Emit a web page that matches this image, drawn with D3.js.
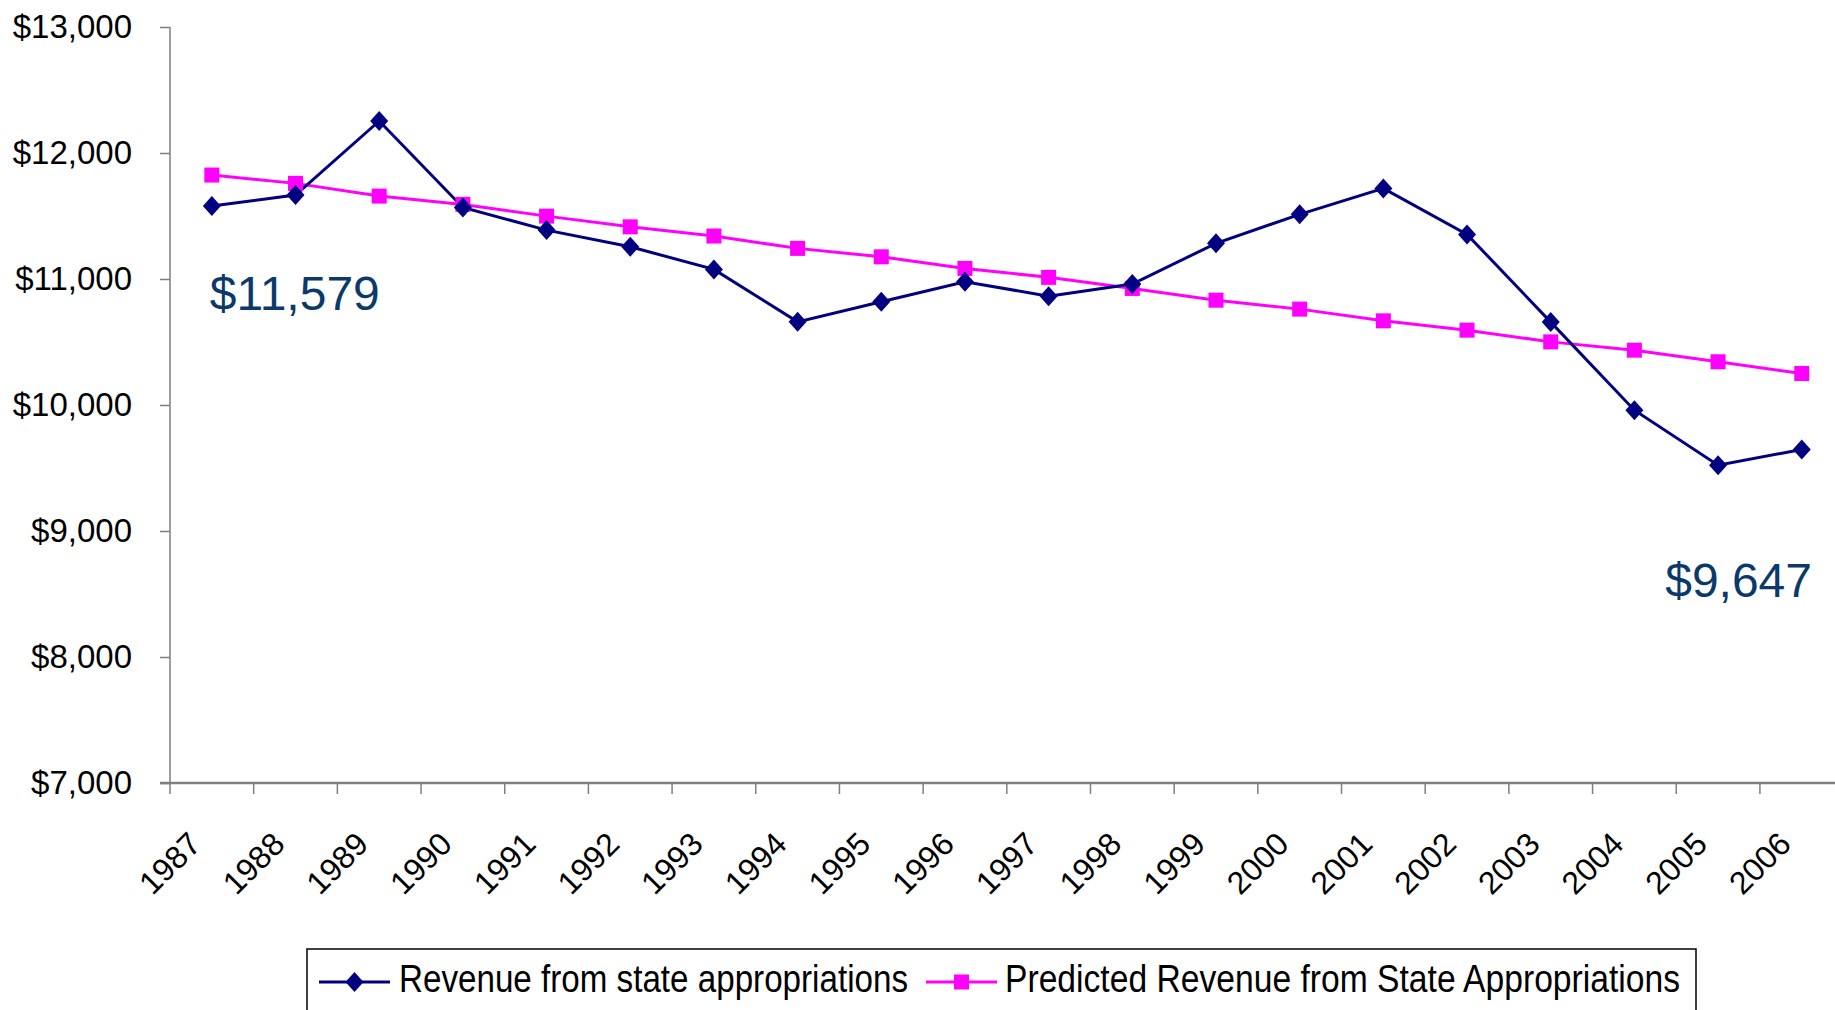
<!DOCTYPE html>
<html>
<head>
<meta charset="utf-8">
<script src="https://cdn.jsdelivr.net/npm/d3@7"></script>
<style>
  html, body { margin: 0; padding: 0; background: #fff; }
  svg { display: block; font-family: "Liberation Sans", Arial, sans-serif; }
</style>
</head>
<body>
<svg id="chart" width="1835" height="1010"></svg>
<script>
"use strict";
// data
var years = ["1987","1988","1989","1990","1991","1992","1993","1994","1995","1996",
             "1997","1998","1999","2000","2001","2002","2003","2004","2005","2006"];
var revenue = [11579, 11666, 12254, 11568, 11388, 11256, 11076, 10660, 10819, 10978,
               10864, 10960, 11283, 11513, 11719, 11354, 10658, 9959, 9522, 9647];
var predicted = [11825, 11759, 11658, 11592, 11499, 11414, 11341, 11243, 11176, 11084,
                 11013, 10925, 10832, 10761, 10668, 10594, 10501, 10435, 10343, 10250];
var yTicks = [7000, 8000, 9000, 10000, 11000, 12000, 13000];
var seriesNames = ["Revenue from state appropriations", "Predicted Revenue from State Appropriations"];

var svg = d3.select("#chart");
var plotLeft = 170, plotTop = 27, plotBottom = 783, step = 83.68;

var x = d3.scaleBand().domain(years).range([plotLeft, plotLeft + step * years.length]).padding(0);
var y = d3.scaleLinear().domain([7000, 13000]).range([plotBottom, plotTop]);
function cx(d, i) { return x(years[i]) + x.bandwidth() / 2; }

var fmt = function(v) { return "$" + d3.format(",")(v); };

// y axis
var yAxis = svg.append("g")
  .attr("transform", "translate(" + plotLeft + ",0)")
  .call(d3.axisLeft(y).tickValues(yTicks).tickFormat(fmt).tickSize(10).tickPadding(28));
yAxis.select(".domain").attr("stroke", "#7f7f7f").attr("stroke-width", 1.5).attr("d", "M0," + plotTop + "V" + plotBottom);
yAxis.selectAll(".tick line").attr("stroke", "#7f7f7f").attr("stroke-width", 1.5);
yAxis.selectAll(".tick text").attr("font-size", 33).attr("fill", "#000")
  .attr("font-family", "Liberation Sans, Arial, sans-serif");

// x axis: line, ticks between categories, rotated labels
var xg = svg.append("g");
xg.append("line")
  .attr("x1", plotLeft - 10).attr("x2", 1835)
  .attr("y1", plotBottom).attr("y2", plotBottom)
  .attr("stroke", "#7f7f7f").attr("stroke-width", 2.5);
xg.selectAll("line.tick").data(years).enter().append("line")
  .attr("class", "tick")
  .attr("x1", function(d) { return x(d); }).attr("x2", function(d) { return x(d); })
  .attr("y1", plotBottom).attr("y2", plotBottom + 11)
  .attr("stroke", "#7f7f7f").attr("stroke-width", 1.5);
xg.selectAll("text").data(years).enter().append("text")
  .attr("transform", function(d) {
    return "translate(" + (x(d) + x.bandwidth() / 2 - 9) + "," + (plotBottom + 63) + ") rotate(-45)";
  })
  .attr("text-anchor", "end")
  .attr("font-size", 32)
  .attr("fill", "#000")
  .text(function(d) { return d; });

// lines
var line = d3.line().x(cx).y(function(d) { return y(d); });
svg.append("path").datum(predicted)
  .attr("d", line).attr("fill", "none").attr("stroke", "#ff00ff").attr("stroke-width", 3);
svg.append("path").datum(revenue)
  .attr("d", line).attr("fill", "none").attr("stroke", "#000080").attr("stroke-width", 3);

// markers
svg.selectAll("rect.sq").data(predicted).enter().append("rect")
  .attr("class", "sq")
  .attr("x", function(d, i) { return cx(d, i) - 7.5; })
  .attr("y", function(d) { return y(d) - 7.5; })
  .attr("width", 15).attr("height", 15)
  .attr("fill", "#ff00ff");
svg.selectAll("path.dia").data(revenue).enter().append("path")
  .attr("class", "dia")
  .attr("d", function(d, i) {
    var px = cx(d, i), py = y(d);
    return "M" + px + "," + (py - 10) + "L" + (px + 9) + "," + py + "L" + px + "," + (py + 10) + "L" + (px - 9) + "," + py + "Z";
  })
  .attr("fill", "#000080");

// value annotations
svg.append("text")
  .attr("x", cx(revenue[0], 0) - 2).attr("y", 310)
  .attr("font-size", 48).attr("fill", "#0b3a6a")
  .text(fmt(revenue[0]));
svg.append("text")
  .attr("x", 1812).attr("y", 597)
  .attr("text-anchor", "end")
  .attr("font-size", 48).attr("fill", "#0b3a6a")
  .text(fmt(revenue[revenue.length - 1]));

// legend
var lg = svg.append("g");
lg.append("rect")
  .attr("x", 307).attr("y", 949).attr("width", 1389).attr("height", 80)
  .attr("fill", "#fff").attr("stroke", "#000").attr("stroke-width", 1.5);
var items = [
  { name: seriesNames[0], color: "#000080", x0: 319, tx: 399, tw: 509, shape: "diamond" },
  { name: seriesNames[1], color: "#ff00ff", x0: 926, tx: 1005, tw: 675, shape: "square" }
];
items.forEach(function(it) {
  var ly = 982;
  lg.append("line")
    .attr("x1", it.x0).attr("x2", it.x0 + 71)
    .attr("y1", ly).attr("y2", ly)
    .attr("stroke", it.color).attr("stroke-width", 3);
  var mx = it.x0 + 35.5;
  if (it.shape === "diamond") {
    lg.append("path")
      .attr("d", "M" + mx + "," + (ly - 10) + "L" + (mx + 9) + "," + ly + "L" + mx + "," + (ly + 10) + "L" + (mx - 9) + "," + ly + "Z")
      .attr("fill", it.color);
  } else {
    lg.append("rect")
      .attr("x", mx - 7.5).attr("y", ly - 7.5).attr("width", 15).attr("height", 15)
      .attr("fill", it.color);
  }
  lg.append("text")
    .attr("x", it.tx).attr("y", ly + 10)
    .attr("font-size", 38).attr("fill", "#000")
    .attr("textLength", it.tw).attr("lengthAdjust", "spacingAndGlyphs")
    .text(it.name);
});
</script>
</body>
</html>
